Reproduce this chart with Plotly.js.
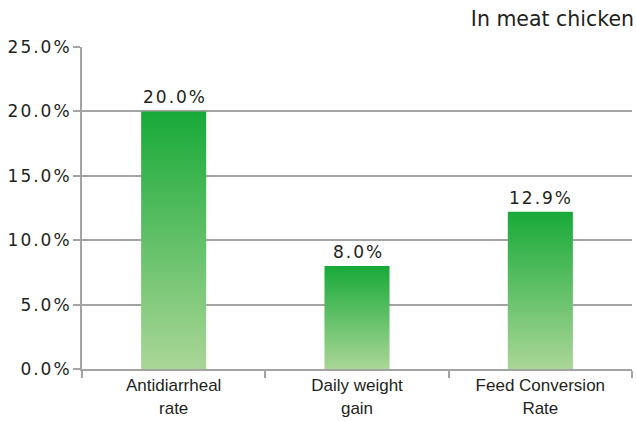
<!DOCTYPE html>
<html>
<head>
<meta charset="utf-8">
<script src="https://cdn.plot.ly/plotly-3.0.1.min.js"></script>
<style>
  html, body { margin: 0; padding: 0; background: #fff; }
  #chart { width: 636px; height: 421px; }
  .ytick text { letter-spacing: 2px; }
  .annotation-text.barlabel { letter-spacing: 2px; }
</style>
</head>
<body>
<div id="chart"></div>
<script>
const categories = ["Antidiarrheal<br>rate", "Daily weight<br>gain", "Feed Conversion<br>Rate"];
const values = [20.0, 8.0, 12.2];
const valueLabels = ["20.0%", "8.0%", "12.9%"];
const titleText = "In meat chicken";

const gridColor = "#a3a3a3";
const textColor = "#231f20";

const trace = {
  type: "bar",
  x: categories,
  y: values,
  marker: { color: "#5cb85a", line: { width: 0 } },
  width: 0.355,
  hoverinfo: "none"
};

const annotations = categories.map((c, i) => ({
  x: c, y: values[i], xref: "x", yref: "y",
  text: valueLabels[i], showarrow: false,
  yanchor: "bottom", yshift: 2, xshift: 1,
  font: { family: "DejaVu Sans", size: 17, color: textColor }
}));

const layout = {
  width: 636, height: 421,
  margin: { l: 82, r: 4, t: 47, b: 52 },
  paper_bgcolor: "#fff", plot_bgcolor: "#fff",
  showlegend: false,
  title: {
    text: titleText, xref: "container", yref: "container",
    x: 0.997, xanchor: "right", y: 0.955, yanchor: "middle",
    font: { family: "DejaVu Sans", size: 20.5, color: textColor }
  },
  xaxis: {
    type: "category",
    showline: true, linecolor: gridColor, linewidth: 2,
    ticks: "outside", tickson: "boundaries", ticklen: 7, tickcolor: gridColor, tickwidth: 2,
    tickfont: { family: "Liberation Sans", size: 17, color: textColor },
    showgrid: false, fixedrange: true
  },
  yaxis: {
    range: [0, 25], dtick: 5, tick0: 0,
    tickformat: ".1f", ticksuffix: "%",
    showline: true, linecolor: gridColor, linewidth: 2,
    ticks: "outside", ticklen: 7, tickcolor: gridColor, tickwidth: 2,
    ticklabelstandoff: -2,
    showgrid: true, gridcolor: gridColor, gridwidth: 2,
    zeroline: false,
    tickfont: { family: "DejaVu Sans", size: 17, color: textColor },
    fixedrange: true
  },
  annotations: annotations
};

Plotly.newPlot("chart", [trace], layout, { displayModeBar: false, staticPlot: true }).then(function (gd) {
  const svg = gd.querySelector(".main-svg");
  const ns = "http://www.w3.org/2000/svg";
  let defs = svg.querySelector("defs");
  if (!defs) { defs = document.createElementNS(ns, "defs"); svg.insertBefore(defs, svg.firstChild); }
  const grad = document.createElementNS(ns, "linearGradient");
  grad.setAttribute("id", "barGrad");
  grad.setAttribute("x1", "0"); grad.setAttribute("y1", "0");
  grad.setAttribute("x2", "0"); grad.setAttribute("y2", "1");
  [["0%", "#18aa38"], ["100%", "#aad697"]].forEach(function (s) {
    const st = document.createElementNS(ns, "stop");
    st.setAttribute("offset", s[0]); st.setAttribute("stop-color", s[1]);
    grad.appendChild(st);
  });
  defs.appendChild(grad);
  gd.querySelectorAll(".barlayer .point path").forEach(function (p) {
    p.style.fill = "url(#barGrad)";
  });
  gd.querySelectorAll(".annotation-text").forEach(function (t) {
    t.classList.add("barlabel");
  });
});
</script>
</body>
</html>
